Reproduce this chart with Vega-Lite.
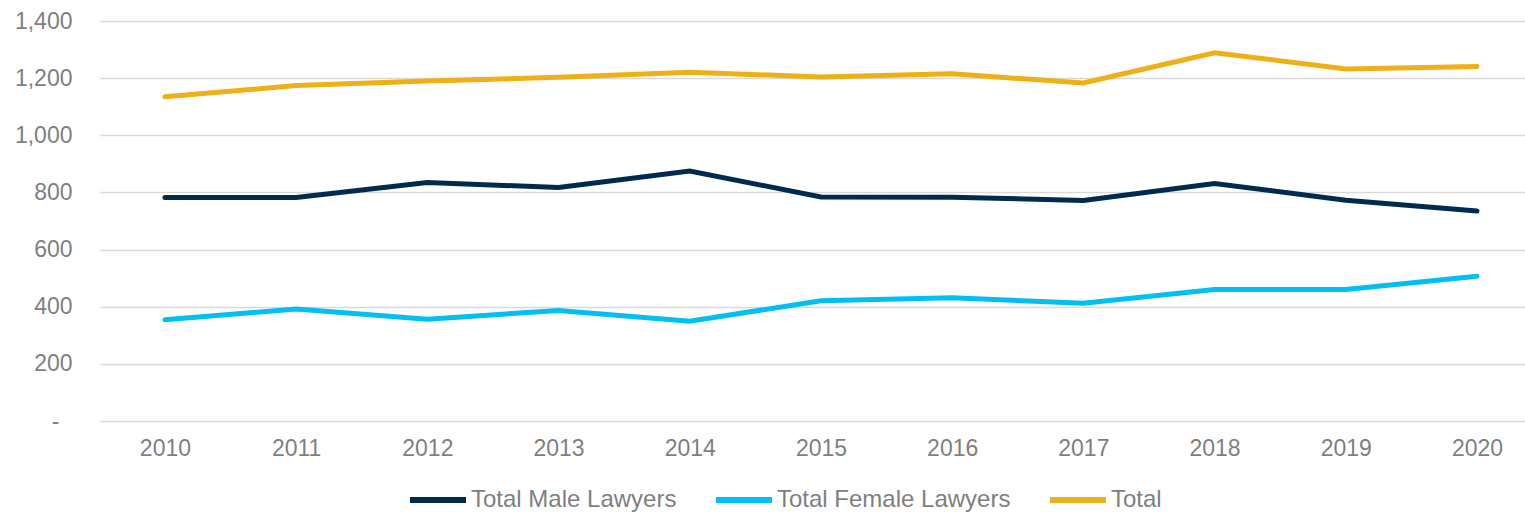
{
  "$schema": "https://vega.github.io/schema/vega-lite/v6.json",
  "width": 1425,
  "height": 400,
  "autosize": "none",
  "padding": {"left": 100, "top": 21, "right": 0, "bottom": 91},
  "background": "white",
  "config": {
    "view": {"stroke": null},
    "font": "Liberation Sans"
  },
  "data": {
    "values": [
      {"year": 2010, "series": "Total Male Lawyers", "value": 782},
      {"year": 2011, "series": "Total Male Lawyers", "value": 782},
      {"year": 2012, "series": "Total Male Lawyers", "value": 835},
      {"year": 2013, "series": "Total Male Lawyers", "value": 817},
      {"year": 2014, "series": "Total Male Lawyers", "value": 875},
      {"year": 2015, "series": "Total Male Lawyers", "value": 784},
      {"year": 2016, "series": "Total Male Lawyers", "value": 783},
      {"year": 2017, "series": "Total Male Lawyers", "value": 772},
      {"year": 2018, "series": "Total Male Lawyers", "value": 831},
      {"year": 2019, "series": "Total Male Lawyers", "value": 773},
      {"year": 2020, "series": "Total Male Lawyers", "value": 735},
      {"year": 2010, "series": "Total Female Lawyers", "value": 354},
      {"year": 2011, "series": "Total Female Lawyers", "value": 392},
      {"year": 2012, "series": "Total Female Lawyers", "value": 356},
      {"year": 2013, "series": "Total Female Lawyers", "value": 387},
      {"year": 2014, "series": "Total Female Lawyers", "value": 349},
      {"year": 2015, "series": "Total Female Lawyers", "value": 421},
      {"year": 2016, "series": "Total Female Lawyers", "value": 431},
      {"year": 2017, "series": "Total Female Lawyers", "value": 412},
      {"year": 2018, "series": "Total Female Lawyers", "value": 460},
      {"year": 2019, "series": "Total Female Lawyers", "value": 460},
      {"year": 2020, "series": "Total Female Lawyers", "value": 507},
      {"year": 2010, "series": "Total", "value": 1135},
      {"year": 2011, "series": "Total", "value": 1174},
      {"year": 2012, "series": "Total", "value": 1190},
      {"year": 2013, "series": "Total", "value": 1203},
      {"year": 2014, "series": "Total", "value": 1221},
      {"year": 2015, "series": "Total", "value": 1204},
      {"year": 2016, "series": "Total", "value": 1215},
      {"year": 2017, "series": "Total", "value": 1183},
      {"year": 2018, "series": "Total", "value": 1289},
      {"year": 2019, "series": "Total", "value": 1232},
      {"year": 2020, "series": "Total", "value": 1241}
    ]
  },
  "mark": {"type": "line", "strokeWidth": 5, "strokeCap": "round", "strokeJoin": "miter", "clip": false},
  "encoding": {
    "x": {
      "field": "year",
      "type": "quantitative",
      "scale": {"domain": [2009.505, 2020.366], "nice": false, "zero": false},
      "axis": {
        "title": null,
        "values": [2010, 2011, 2012, 2013, 2014, 2015, 2016, 2017, 2018, 2019, 2020],
        "format": "d",
        "grid": false,
        "ticks": false,
        "domain": false,
        "labelFontSize": 23,
        "labelColor": "#7f7f7f",
        "labelPadding": 16,
        "labelFlush": false
      }
    },
    "y": {
      "field": "value",
      "type": "quantitative",
      "scale": {"domain": [0, 1400], "nice": false},
      "axis": {
        "title": null,
        "values": [0, 200, 400, 600, 800, 1000, 1200, 1400],
        "labelExpr": "datum.value == 0 ? '-' : format(datum.value, ',')",
        "grid": true,
        "gridColor": "#d9d9d9",
        "gridWidth": 1.5,
        "ticks": false,
        "domain": false,
        "labelFontSize": 23,
        "labelColor": "#7f7f7f",
        "labelPadding": {"condition": {"test": "datum.value == 0", "value": 41}, "value": 28}
      }
    },
    "color": {
      "field": "series",
      "type": "nominal",
      "scale": {
        "domain": ["Total Male Lawyers", "Total Female Lawyers", "Total"],
        "range": ["#002b4f", "#00bff3", "#eeaf17"]
      },
      "legend": {
        "title": null,
        "orient": "none",
        "direction": "horizontal",
        "legendX": 307,
        "legendY": 448,
        "symbolType": "stroke",
        "symbolSize": 3136,
        "symbolStrokeWidth": 6,
        "labelFontSize": 24,
        "labelColor": "#7f7f7f",
        "labelOffset": 2,
        "columnPadding": 27,
        "labelLimit": 400
      }
    }
  }
}
